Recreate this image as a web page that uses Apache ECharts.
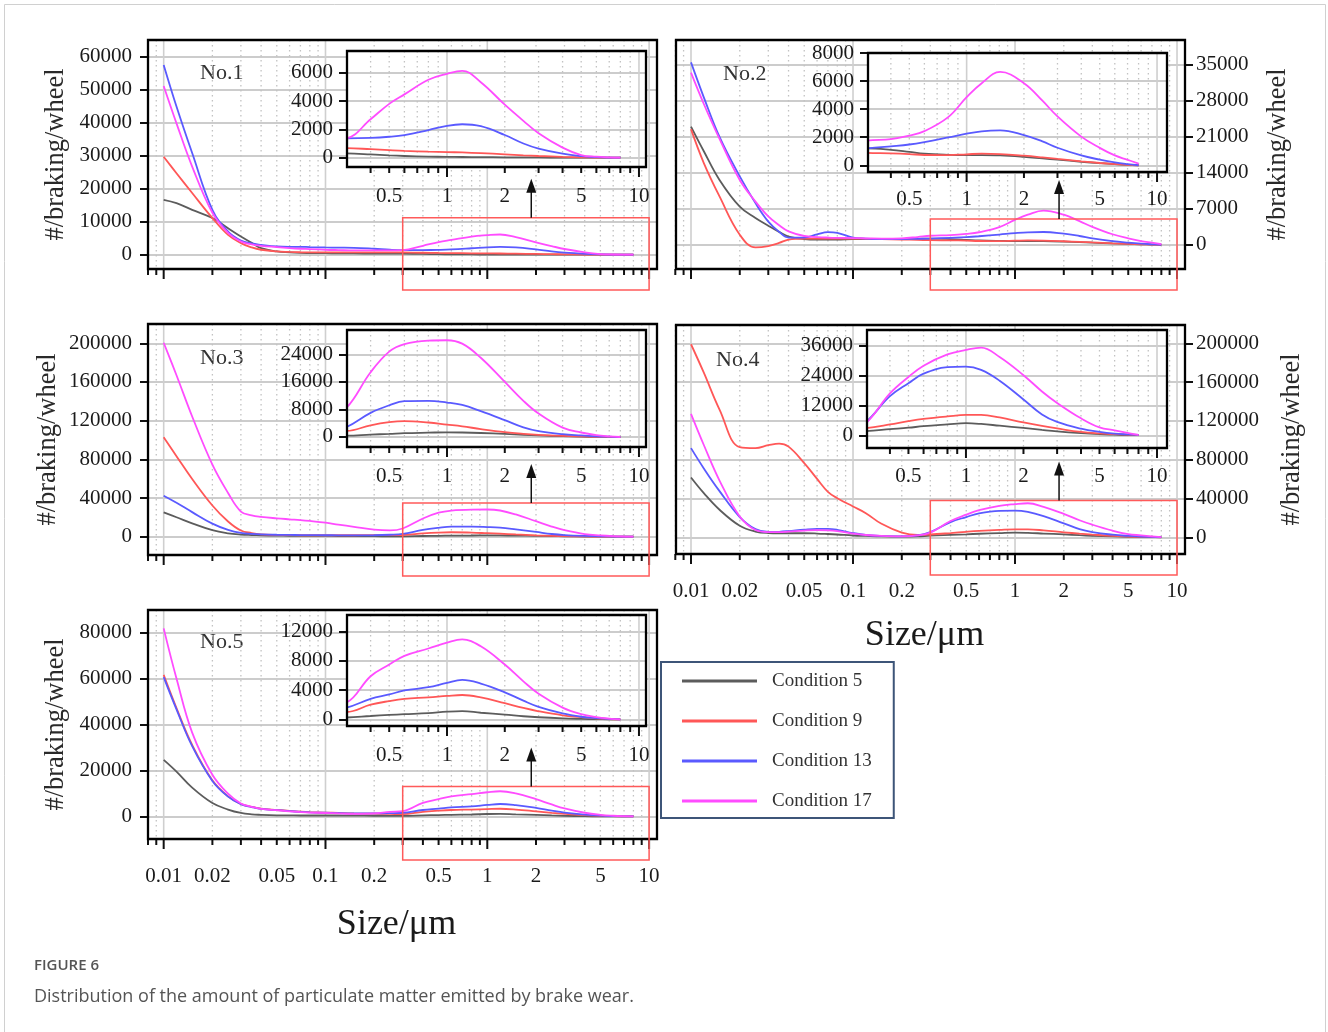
<!DOCTYPE html>
<html>
<head>
<meta charset="utf-8">
<title>Figure 6 - brake wear particle size distribution</title>
<script src="https://cdn.jsdelivr.net/npm/echarts@6.0.0/dist/echarts.min.js"></script>
<style>
  html, body { margin: 0; padding: 0; background: #fff; }
  #chart { width: 1328px; height: 1032px; }
</style>
</head>
<body>
<div id="chart"></div>
<script>
// particle size (µm), shared by every curve
const SIZES = [0.01, 0.012, 0.015, 0.02, 0.025, 0.03, 0.035, 0.04, 0.05, 0.06, 0.07, 0.08, 0.1, 0.12, 0.15, 0.2, 0.25, 0.3,
  0.4, 0.5, 0.6, 0.8, 1, 1.2, 1.5, 2, 2.5, 3, 4, 5, 6, 7, 8];
const NAMES = ['Condition 5', 'Condition 9', 'Condition 13', 'Condition 17'];

// No.1
const P1_C5 = [16600, 15600, 13600, 11100, 8000, 5500, 3600, 2000, 1000, 700, 550, 500, 450, 400, 380, 350, 330, 310,
  230, 160, 120, 80, 60, 50, 40, 30, 25, 20, 10, 5, 0, 0, 0];
const P1_C9 = [29700, 24700, 18700, 11100, 6000, 3500, 2200, 1500, 1000, 850, 750, 700, 700, 700, 700, 700, 690, 680,
  600, 530, 480, 430, 400, 370, 320, 240, 170, 120, 60, 30, 10, 5, 0];
const P1_C13 = [57500, 44900, 30800, 13600, 7000, 4300, 3400, 3000, 2500, 2400, 2400, 2300, 2200, 2150, 2100, 1800, 1500, 1370,
  1400, 1480, 1600, 1950, 2250, 2360, 2220, 1600, 1000, 640, 280, 110, 40, 10, 0];
const P1_C17 = [51100, 39800, 26700, 12700, 6600, 4000, 3100, 2700, 2300, 2000, 1800, 1700, 1500, 1400, 1300, 1300, 1300, 1370,
  2710, 3800, 4470, 5500, 5920, 6130, 5330, 3740, 2600, 1730, 710, 190, 70, 20, 0];

// No.2
const P2_C5 = [23000, 18200, 12600, 7400, 5200, 3700, 2500, 1600, 1100, 1000, 1000, 1000, 1100, 1100, 1100, 1100, 1150, 1200,
  1100, 950, 820, 740, 720, 720, 700, 600, 490, 400, 250, 150, 80, 30, 0];
const P2_C9 = [22500, 15900, 9400, 1950, -500, -250, 350, 1000, 1200, 1200, 1200, 1200, 1200, 1150, 1100, 1000, 950, 880,
  850, 800, 730, 720, 780, 830, 800, 680, 560, 450, 280, 160, 80, 30, 0];
const P2_C13 = [35500, 28700, 21000, 13300, 8100, 4500, 2500, 1400, 1400, 2000, 2450, 2300, 1400, 1200, 1100, 1100, 1150, 1200,
  1350, 1480, 1650, 1980, 2250, 2420, 2480, 2150, 1700, 1250, 700, 400, 200, 80, 0];
const P2_C17 = [33500, 27400, 20600, 12600, 8400, 5500, 3800, 2600, 1700, 1500, 1400, 1350, 1300, 1250, 1200, 1250, 1500, 1750,
  1870, 2110, 2430, 3430, 4850, 5850, 6650, 5850, 4600, 3480, 2040, 1240, 700, 390, 120];

// No.3
const P3_C5 = [25200, 20100, 13800, 6700, 3500, 2200, 1700, 1400, 1100, 1000, 900, 850, 800, 700, 600, 500, 450, 400,
  700, 900, 1100, 1250, 1350, 1300, 1150, 900, 650, 450, 220, 100, 40, 10, 0];
const P3_C9 = [102800, 83300, 59700, 32300, 15700, 6400, 3800, 2500, 1800, 1600, 1500, 1500, 1500, 1500, 1500, 1600, 1700, 1750,
  3400, 4300, 4600, 4200, 3600, 3100, 2300, 1400, 900, 600, 300, 150, 60, 20, 0];
const P3_C13 = [42400, 35100, 25400, 13500, 7000, 3900, 3000, 2500, 2000, 1800, 1700, 1600, 1500, 1450, 1400, 1500, 2000, 2900,
  7000, 9200, 10400, 10500, 10000, 9300, 7500, 4900, 2800, 1700, 800, 450, 200, 80, 0];
const P3_C17 = [200600, 167000, 124300, 74500, 45200, 26000, 22000, 20500, 19000, 18000, 17200, 16300, 14500, 12500, 10200, 7300, 6500, 8500,
  18800, 24800, 27000, 28000, 28100, 27100, 23000, 16000, 10500, 6800, 2700, 1300, 550, 200, 0];

// No.4
const P4_C5 = [61700, 45600, 28500, 12000, 6000, 4500, 4300, 4300, 4300, 4000, 3500, 3000, 2000, 1500, 1000, 800, 1000, 1800,
  2600, 3200, 3800, 4500, 5000, 4700, 4000, 3100, 2300, 1700, 1000, 600, 400, 250, 200];
const P4_C9 = [199000, 169700, 131700, 93000, 92000, 95000, 96700, 93500, 76600, 60300, 47000, 40400, 31900, 25000, 14000, 5000, 2500, 3000,
  4500, 5800, 6700, 7700, 8300, 8300, 7300, 5300, 3900, 2900, 1500, 900, 600, 400, 300];
const P4_C13 = [92000, 71100, 47700, 21000, 8500, 5600, 5800, 6500, 8000, 8800, 8800, 7800, 4500, 2500, 1500, 1000, 2000, 5500,
  15800, 21000, 24800, 27400, 27600, 26300, 22000, 14500, 8500, 5500, 2800, 1500, 800, 500, 300];
const P4_C17 = [127300, 95200, 58600, 21500, 7600, 5500, 5500, 6000, 7000, 7500, 7300, 6500, 4000, 2500, 1500, 1000, 2000, 5000,
  16900, 23500, 28000, 32500, 34300, 35200, 31500, 24200, 17700, 13100, 6950, 3320, 2150, 1150, 300];

// No.5
const P5_C5 = [24600, 19500, 12500, 5800, 3000, 1500, 900, 700, 500, 450, 400, 400, 400, 400, 350, 300, 280, 250,
  450, 600, 700, 850, 1050, 1130, 900, 650, 420, 280, 130, 60, 20, 5, 0];
const P5_C9 = [61500, 47100, 31100, 15700, 8700, 5400, 4200, 3400, 2800, 2400, 2100, 1900, 1700, 1500, 1300, 1200, 1100, 1000,
  2000, 2500, 2800, 3000, 3200, 3330, 3000, 2200, 1550, 1100, 550, 300, 120, 40, 0];
const P5_C13 = [60500, 46500, 30500, 15400, 8600, 5300, 4100, 3300, 2700, 2300, 2000, 1800, 1600, 1400, 1300, 1300, 1400, 1600,
  2800, 3400, 3950, 4400, 5000, 5400, 4900, 3700, 2550, 1700, 800, 350, 150, 50, 0];
const P5_C17 = [81700, 59900, 36400, 18100, 9900, 5600, 4200, 3300, 2700, 2200, 1900, 1700, 1500, 1300, 1100, 1300, 2000, 2300,
  5900, 7500, 8700, 9700, 10500, 10950, 10000, 7500, 5200, 3500, 1600, 700, 300, 100, 0];

// tick labels
const P1_TICKS = [0, 10000, 20000, 30000, 40000, 50000, 60000];
const P2_TICKS = [0, 7000, 14000, 21000, 28000, 35000];
const P3_TICKS = [0, 40000, 80000, 120000, 160000, 200000];
const P4_TICKS = [0, 40000, 80000, 120000, 160000, 200000];
const P5_TICKS = [0, 20000, 40000, 60000, 80000];
const I1_TICKS = [0, 2000, 4000, 6000];
const I2_TICKS = [0, 2000, 4000, 6000, 8000];
const I3_TICKS = [0, 8000, 16000, 24000];
const I4_TICKS = [0, 12000, 24000, 36000];
const I5_TICKS = [0, 4000, 8000, 12000];

const MAIN_MAJOR = [0.01, 0.1, 1, 10];
const MAIN_MINOR = [0.008, 0.009, 0.02, 0.03, 0.04, 0.05, 0.06, 0.07, 0.08, 0.09,
  0.2, 0.3, 0.4, 0.5, 0.6, 0.7, 0.8, 0.9, 2, 3, 4, 5, 6, 7, 8, 9];
const MAIN_LABELS = [0.01, 0.02, 0.05, 0.1, 0.2, 0.5, 1, 2, 5, 10];
const INSET_MAJOR = [1, 10];
const INSET_MINOR = [0.4, 0.5, 0.6, 0.7, 0.8, 0.9, 2, 3, 4, 5, 6, 7, 8, 9];
const INSET_LABELS = [0.5, 1, 2, 5, 10];

// zoomed range marked by the red box, and where the arrow stands
const ZOOM_FROM = 0.3;
const ZOOM_TO = 10;
const ARROW_AT = 1.87;

const COLORS = ['#5c5c5c', '#ff5757', '#5a5aff', '#ff4cff'];
const SERIF = '"Liberation Serif", "Times New Roman", serif';

const PANELS = [
  { tag: 'No.1', tagAt: [222, 73], data: [P1_C5, P1_C9, P1_C13, P1_C17], ticks: P1_TICKS,
    box: [148, 40, 509, 229], x: [0.0080, 11.19], y: [-4330, 65050], side: 'left', margin: 16, nameGap: 78, zoomTop: 11200,
    inset: { ticks: I1_TICKS, box: [347, 51, 299, 116], x: [0.3014, 10.88], y: [-656, 7530], labelGap: 29 } },
  { tag: 'No.2', tagAt: [745, 74], data: [P2_C5, P2_C9, P2_C13, P2_C17], ticks: P2_TICKS,
    box: [676, 40, 509, 229], x: [0.00808, 11.2], y: [-4725, 39860], side: 'right', margin: 11, nameGap: 80, zoomTop: 5000,
    inset: { ticks: I2_TICKS, box: [868, 53, 299, 119], x: [0.3034, 11.28], y: [-480, 8000], labelGap: 27 } },
  { tag: 'No.3', tagAt: [222, 358], data: [P3_C5, P3_C9, P3_C13, P3_C17], ticks: P3_TICKS,
    box: [148, 324, 509, 231], x: [0.0080, 11.19], y: [-18930, 219960], side: 'left', margin: 16, nameGap: 86, zoomTop: 34850,
    inset: { ticks: I3_TICKS, box: [347, 330, 299, 117], x: [0.3014, 10.88], y: [-2910, 31070], labelGap: 29 } },
  { tag: 'No.4', tagAt: [738, 360], data: [P4_C5, P4_C9, P4_C13, P4_C17], ticks: P4_TICKS,
    box: [676, 325, 509, 229], x: [0.00808, 11.2], y: [-17080, 218830], side: 'right', margin: 11, nameGap: 94, zoomTop: 38070,
    xLabels: true, xNameGap: 64,
    inset: { ticks: I4_TICKS, box: [867, 330, 300, 118], x: [0.3034, 11.28], y: [-4920, 42280], labelGap: 28 } },
  { tag: 'No.5', tagAt: [222, 642], data: [P5_C5, P5_C9, P5_C13, P5_C17], ticks: P5_TICKS,
    box: [148, 610, 509, 229], x: [0.0080, 11.19], y: [-9800, 89670], side: 'left', margin: 16, nameGap: 78, zoomTop: 13000,
    xLabels: true, xNameGap: 68,
    inset: { ticks: I5_TICKS, box: [347, 615, 299, 111], x: [0.3014, 10.88], y: [-918, 14290], labelGap: 29 } }
];

const grids = [], xAxes = [], yAxes = [], series = [], titles = [];

function tickRenderer(labels, labelGap) {
  return function (params, api) {
    const cs = params.coordSys;
    const v = api.value(0);
    const major = api.value(1) === 1;
    const x = api.coord([v, 0])[0];
    if (x < cs.x - 1 || x > cs.x + cs.width + 1) return;
    const bottom = cs.y + cs.height;
    const kids = [
      { type: 'line', silent: true, shape: { x1: x, y1: cs.y, x2: x, y2: bottom },
        style: { stroke: major ? '#cfcfcf' : '#c2c2c2', lineWidth: major ? 1.6 : 1.3, lineDash: major ? null : [1.5, 3.5] } },
      { type: 'line', silent: true, shape: { x1: x, y1: bottom, x2: x, y2: bottom + (major ? 10 : 6) },
        style: { stroke: '#111', lineWidth: 2 } }
    ];
    if (labels && labels.indexOf(v) >= 0) {
      kids.push({ type: 'text', silent: true, x: x, y: bottom + labelGap,
        style: { text: String(v), fill: '#1a1a1a', fontSize: 21, fontFamily: SERIF, align: 'center', verticalAlign: 'middle' } });
    }
    return { type: 'group', children: kids };
  };
}

function frameRenderer(params) {
  const cs = params.coordSys;
  return { type: 'rect', silent: true, shape: { x: cs.x, y: cs.y, width: cs.width, height: cs.height },
    style: { fill: 'none', stroke: '#000', lineWidth: 2.3 } };
}

function zoomBoxRenderer(params, api) {
  const cs = params.coordSys;
  const a = api.coord([api.value(0), api.value(2)]);
  const b = api.coord([api.value(1), api.value(2)]);
  const ax = api.coord([api.value(3), api.value(2)])[0];
  const bottom = cs.y + cs.height + 21;
  return { type: 'group', children: [
    { type: 'rect', silent: true, shape: { x: a[0], y: a[1], width: b[0] - a[0], height: bottom - a[1] },
      style: { fill: 'none', stroke: '#ff5a5a', lineWidth: 1.5 } },
    { type: 'line', silent: true, shape: { x1: ax, y1: a[1], x2: ax, y2: a[1] - 26 }, style: { stroke: '#111', lineWidth: 1.5 } },
    { type: 'polygon', silent: true, shape: { points: [[ax - 5, a[1] - 25], [ax + 5, a[1] - 25], [ax, a[1] - 39]] },
      style: { fill: '#111' } }
  ] };
}

function addPlot(cfg, data, isInset) {
  const gi = grids.length;
  const z = isInset ? 5 : 0;
  grids.push({ left: cfg.box[0], top: cfg.box[1], width: cfg.box[2], height: cfg.box[3], show: true,
    borderWidth: 0, backgroundColor: isInset ? '#fff' : 'transparent',
    outerBoundsMode: 'none', containLabel: false, z: z });
  xAxes.push({ type: 'log', logBase: 10, gridIndex: gi, min: cfg.x[0], max: cfg.x[1], z: z + 1,
    axisLine: { show: false }, axisTick: { show: false }, axisLabel: { show: false }, splitLine: { show: false },
    name: cfg.xName || '', nameLocation: 'middle', nameGap: cfg.xNameGap || 62,
    nameTextStyle: { fontFamily: SERIF, fontSize: 36, color: '#1a1a1a', padding: [0, 12, 0, 0] } });
  yAxes.push({ type: 'value', gridIndex: gi, min: cfg.y[0], max: cfg.y[1], position: cfg.side || 'left', z: z + 1,
    axisLine: { show: false },
    axisTick: { show: true, customValues: cfg.ticks, length: 8, lineStyle: { color: '#111', width: 2 } },
    axisLabel: { customValues: cfg.ticks, formatter: v => String(v), margin: cfg.margin || 14,
      fontFamily: SERIF, fontSize: 21, color: '#1a1a1a' },
    splitLine: { show: true, lineStyle: { color: '#cccccc', width: 1.8 } },
    name: isInset ? '' : '#/braking/wheel', nameLocation: 'middle', nameRotate: 90, nameGap: cfg.nameGap,
    nameTextStyle: { fontFamily: SERIF, fontSize: 26.5, color: '#2a2a2a' } });
  const major = isInset ? INSET_MAJOR : MAIN_MAJOR;
  const minor = isInset ? INSET_MINOR : MAIN_MINOR;
  const labels = isInset ? INSET_LABELS : (cfg.xLabels ? MAIN_LABELS : null);
  series.push({ type: 'custom', xAxisIndex: gi, yAxisIndex: gi, z: z + 2, silent: true,
    renderItem: tickRenderer(labels, isInset ? cfg.labelGap : 37),
    data: major.map(v => [v, 1]).concat(minor.map(v => [v, 0])) });
  data.forEach((arr, k) => {
    series.push({ type: 'line', name: NAMES[k], xAxisIndex: gi, yAxisIndex: gi, z: z + 3, silent: true,
      data: SIZES.map((s, j) => [s, arr[j]]), smooth: 0.4, symbol: 'none', clip: true,
      lineStyle: { color: COLORS[k], width: 1.8 }, itemStyle: { color: COLORS[k] } });
  });
  series.push({ type: 'custom', xAxisIndex: gi, yAxisIndex: gi, z: z + 4, silent: true,
    renderItem: frameRenderer, data: [[1, 0]] });
  return gi;
}

PANELS.forEach(p => {
  const gi = addPlot(Object.assign({}, p, { xName: p.xLabels ? 'Size/μm' : '' }), p.data, false);
  series.push({ type: 'custom', xAxisIndex: gi, yAxisIndex: gi, z: 4, silent: true,
    renderItem: zoomBoxRenderer, encode: { x: [0, 1, 3], y: 2 },
    data: [[ZOOM_FROM, ZOOM_TO, p.zoomTop, ARROW_AT]] });
  addPlot(p.inset, p.data, true);
  titles.push({ text: p.tag, left: p.tagAt[0] - 36, top: p.tagAt[1] - 24, padding: [13, 14], z: 1,
    backgroundColor: '#fff', textStyle: { fontFamily: SERIF, fontSize: 22, fontWeight: 'normal', color: '#333' } });
});

const chart = echarts.init(document.getElementById('chart'), null, { renderer: 'canvas' });
chart.setOption({
  animation: false,
  backgroundColor: '#fff',
  title: titles,
  grid: grids,
  xAxis: xAxes,
  yAxis: yAxes,
  legend: {
    data: NAMES, orient: 'vertical', left: 661, top: 662, selectedMode: false,
    icon: 'rect', itemWidth: 75, itemHeight: 3, itemGap: 18,
    padding: [8, 22, 6, 21], borderColor: '#3d5578', borderWidth: 2, backgroundColor: '#fff',
    textStyle: { fontFamily: SERIF, fontSize: 19, color: '#333', lineHeight: 22, padding: [0, 0, 0, 10] }
  },
  graphic: [
    { type: 'rect', silent: true, shape: { x: 4.5, y: 4.5, width: 1321, height: 1100 },
      style: { fill: 'none', stroke: '#d0d0d0', lineWidth: 1 } },
    { type: 'text', silent: true, x: 34, y: 966,
      style: { text: 'FIGURE 6', fill: '#555', fontSize: 15, fontWeight: 600, fontFamily: '"Open Sans", sans-serif', verticalAlign: 'middle' } },
    { type: 'text', silent: true, x: 34, y: 997,
      style: { text: 'Distribution of the amount of particulate matter emitted by brake wear.', fill: '#555', fontSize: 18,
        fontFamily: '"Open Sans", sans-serif', verticalAlign: 'middle' } }
  ],
  series: series
});
</script>
</body>
</html>
